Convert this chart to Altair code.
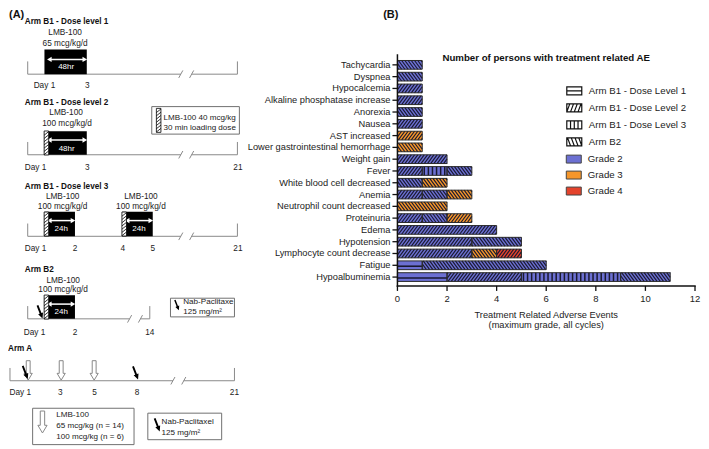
import numpy as np
import pandas as pd
import altair as alt

FONT = "Liberation Sans"

# ======================= Panel B values =======================
events = ["Tachycardia", "Dyspnea", "Hypocalcemia", "Alkaline phosphatase increase",
          "Anorexia", "Nausea", "AST increased", "Lower gastrointestinal hemorrhage",
          "Weight gain", "Fever", "White blood cell decreased", "Anemia",
          "Neutrophil count decreased", "Proteinuria", "Edema", "Hypotension",
          "Lymphocyte count decrease", "Fatigue", "Hypoalbuminemia"]
arms = ["Arm B1 - Dose Level 1", "Arm B1 - Dose Level 2", "Arm B1 - Dose Level 3", "Arm B2"]
grades = ["Grade 2", "Grade 3", "Grade 4"]
DL1, DL2, DL3, B2 = arms
G2, G3, G4 = grades

seg_event = ["Tachycardia", "Dyspnea", "Hypocalcemia", "Alkaline phosphatase increase",
             "Anorexia", "Nausea", "AST increased", "Lower gastrointestinal hemorrhage",
             "Weight gain", "Fever", "Fever", "Fever",
             "White blood cell decreased", "White blood cell decreased",
             "Anemia", "Anemia", "Anemia", "Neutrophil count decreased",
             "Proteinuria", "Proteinuria", "Proteinuria", "Edema",
             "Hypotension", "Hypotension",
             "Lymphocyte count decrease", "Lymphocyte count decrease", "Lymphocyte count decrease",
             "Fatigue", "Fatigue",
             "Hypoalbuminemia", "Hypoalbuminemia", "Hypoalbuminemia", "Hypoalbuminemia"]
seg_arm = [B2, B2, DL2, DL2, B2, DL2, DL2, B2, DL2, DL2, DL3, B2, B2, B2, DL2, B2, B2, B2,
           DL2, B2, DL2, DL2, DL2, B2, DL2, B2, DL2, DL1, B2, DL1, DL2, DL3, B2]
seg_grade = [G2, G2, G2, G2, G2, G2, G3, G3, G2, G2, G2, G2, G2, G3, G2, G2, G3, G3,
             G2, G2, G3, G2, G2, G2, G2, G3, G4, G2, G2, G2, G2, G2, G2]
seg_count = [1, 1, 1, 1, 1, 1, 1, 1, 2, 1, 1, 1, 1, 1, 1, 1, 1, 2,
             1, 1, 1, 4, 3, 2, 3, 1, 1, 1, 5, 2, 3, 4, 2]
x_ticks = [0, 2, 4, 6, 8, 10, 12]
chart_title = "Number of persons with treatment related AE"
x_title = ["Treatment Related Adverse Events", "(maximum grade, all cycles)"]

# styles
grade_colors = ["#6c70d2", "#f5962a", "#e4432c"]
hatch_color = "#191930"
AXC = "#111111"
pattern_of = {DL1: "h", DL2: "/", DL3: "|", B2: "\\"}

# ---------- derive stacked segments ----------
HB = 0.37  # half bar thickness in row units
rows, ends = [], {}
for e, a, g, c in zip(seg_event, seg_arm, seg_grade, seg_count):
    x0 = ends.get(e, 0)
    x1 = x0 + c
    ends[e] = x1
    i = events.index(e)
    rows.append(dict(event=e, arm=a, grade=g, x0=x0, x1=x1, yc=i, ylo=i - HB, yhi=i + HB))
seg = pd.DataFrame(rows)
ev_df = pd.DataFrame({"event": events, "idx": list(range(len(events)))})
xt_df = pd.DataFrame({"v": x_ticks, "lab": [str(v) for v in x_ticks]})

D, S, SV = 0.26, 0.13, 0.165
diag, vert, horiz = [], [], []
for r in rows:
    k = pattern_of[r["arm"]]
    x0, x1, yc = r["x0"], r["x1"], r["yc"]
    if k in ("/", "\\"):
        xb = x0 - D + 0.04
        while xb < x1:
            t0 = max(0.0, (x0 - xb) / D)
            t1 = min(1.0, (x1 - xb) / D)
            if t1 > t0:
                if k == "/":
                    ya, yb = yc + HB - 2 * HB * t0, yc + HB - 2 * HB * t1
                else:
                    ya, yb = yc - HB + 2 * HB * t0, yc - HB + 2 * HB * t1
                diag.append(dict(xa=xb + D * t0, xb=xb + D * t1, ya=ya, yb=yb))
            xb += S
    elif k == "|":
        x = x0 + SV / 2
        while x < x1 - 1e-9:
            vert.append(dict(xa=x, ya=yc - HB, yb=yc + HB))
            x += SV
    else:
        horiz.append(dict(xa=x0, xb=x1, ya=yc + 0.08))
diag_df, vert_df, horiz_df = pd.DataFrame(diag), pd.DataFrame(vert), pd.DataFrame(horiz)

W_B, H_B = 298, 276
WA, HA = 389, 433
Y_TOP = 44
xs = alt.Scale(domain=[0, 12], nice=False, zero=True)
ys = alt.Scale(domain=[-0.9, 18.75], range=[Y_TOP, H_B], nice=False, zero=False)


def bx(f):
    return alt.X(f + ":Q", scale=xs, axis=None)


def by(f):
    return alt.Y(f + ":Q", scale=ys, axis=None)


RECT = "M-1,-0.53L1,-0.53L1,0.53L-1,0.53Z"
arm_paths = [
    RECT + "M-1,0L1,0",
    RECT + "M-1,0.53L-0.6,-0.53M-0.5,0.53L-0.1,-0.53M0,0.53L0.4,-0.53M0.5,0.53L0.9,-0.53",
    RECT + "M-0.5,-0.53L-0.5,0.53M0,-0.53L0,0.53M0.5,-0.53L0.5,0.53",
    RECT + "M-0.9,-0.53L-0.5,0.53M-0.4,-0.53L0,0.53M0.1,-0.53L0.5,0.53M0.6,-0.53L1,0.53",
]

LEG_X = WA + 168.6
leg_common = dict(title=None, orient="none", legendX=LEG_X, symbolSize=225, labelFontSize=9.7,
                  labelFont=FONT, labelColor="#222", labelOffset=6, rowPadding=2, padding=0)

bars_fill = alt.Chart(seg).mark_bar(strokeWidth=0).encode(
    x=bx("x0"), x2="x1:Q", y=by("ylo"), y2="yhi:Q",
    color=alt.Color("grade:N", scale=alt.Scale(domain=grades, range=grade_colors),
                    legend=alt.Legend(legendY=141, symbolType=RECT, symbolStrokeColor="#444",
                                      symbolStrokeWidth=1, **leg_common)))
diag_l = alt.Chart(diag_df).mark_rule(color=hatch_color, strokeWidth=1.15).encode(
    x=bx("xa"), x2="xb:Q", y=by("ya"), y2="yb:Q")
vert_l = alt.Chart(vert_df).mark_rule(color=hatch_color, strokeWidth=1.5).encode(
    x=bx("xa"), y=by("ya"), y2="yb:Q")
horiz_l = alt.Chart(horiz_df).mark_rule(color=hatch_color, strokeWidth=1.6).encode(
    x=bx("xa"), x2="xb:Q", y=by("ya"))
outline = alt.Chart(seg).mark_bar(fill="transparent", stroke="#2a2a2a", strokeWidth=1).encode(
    x=bx("x0"), x2="x1:Q", y=by("ylo"), y2="yhi:Q")

# axes drawn as marks
y_ticks = alt.Chart(ev_df).mark_rule(color=AXC, strokeWidth=1.3).encode(
    x=alt.value(-5), x2=alt.value(0), y=by("idx"))
y_labels = alt.Chart(ev_df).mark_text(align="right", baseline="middle", font=FONT, fontSize=9.3,
                                      color="#222").encode(
    x=alt.value(-7), y=by("idx"), text="event:N")
y_domain = alt.Chart(ev_df.head(1)).mark_rule(color=AXC, strokeWidth=1.5).encode(
    x=alt.value(0), y=alt.value(Y_TOP), y2=alt.value(H_B + 0.75))
x_domain = alt.Chart(xt_df.head(1)).mark_rule(color=AXC, strokeWidth=1.5).encode(
    x=alt.value(-0.75), x2=alt.value(W_B + 0.75), y=alt.value(H_B))
x_tick_l = alt.Chart(xt_df).mark_rule(color=AXC, strokeWidth=1.3).encode(
    x=bx("v"), y=alt.value(H_B), y2=alt.value(H_B + 5))
x_lab_l = alt.Chart(xt_df).mark_text(baseline="middle", font=FONT, fontSize=9.5,
                                     color="#222").encode(
    x=bx("v"), y=alt.value(H_B + 13), text="lab:N")
x_title_l = alt.Chart(pd.DataFrame({"t": x_title, "k": [0, 1]})).mark_text(
    baseline="middle", font=FONT, fontSize=9.3, color="#222").encode(
    x=alt.value(W_B / 2), y=alt.Y("k:Q", scale=alt.Scale(domain=[0, 1], range=[H_B + 29, H_B + 39.5]),
                                  axis=None), text="t:N")

leg_pts = alt.Chart(pd.DataFrame({"arm": arms, "px": [0] * 4, "py": [0] * 4})).mark_point(
    opacity=0).encode(
    x=bx("px"), y=by("py"),
    shape=alt.Shape("arm:N", scale=alt.Scale(domain=arms, range=arm_paths),
                    legend=alt.Legend(legendY=72.2, symbolFillColor="white",
                                      symbolStrokeColor="#111", symbolStrokeWidth=1.2,
                                      symbolOpacity=1, **leg_common)))
title_l = alt.Chart(pd.DataFrame({"t": [chart_title]})).mark_text(
    font=FONT, fontSize=9.7, fontWeight="bold", color="#111").encode(
    x=alt.value(W_B / 2), y=alt.value(48), text="t:N")

panel_b = alt.layer(bars_fill, diag_l, vert_l, horiz_l, outline, y_ticks, y_labels, y_domain,
                    x_domain, x_tick_l, x_lab_l, x_title_l, leg_pts, title_l).resolve_scale(
    y="independent").properties(width=W_B, height=H_B)

# ======================= Panel A (schematic) =======================
# diagram layout in reference-pixel units
headers = [("(A)", 3, 10, 11), ("(B)", 383, 10, 11),
           ("Arm B1 - Dose level 1", 19, 17, 8.2), ("Arm B1 - Dose level 2", 19, 99, 8.2),
           ("Arm B1 - Dose level 3", 19, 185, 8.2), ("Arm B2", 19, 269, 8.2),
           ("Arm A", 2, 350, 8.2)]
drug_labels = [("LMB-100", 60, 28), ("65 mcg/kg/d", 60, 39),
               ("LMB-100", 61, 110), ("100 mcg/kg/d", 62, 121),
               ("LMB-100", 57.5, 195), ("100 mcg/kg/d", 57.5, 205),
               ("LMB-100", 137, 195), ("100 mcg/kg/d", 137, 205),
               ("LMB-100", 58, 280), ("100 mcg/kg/d", 58, 290)]
day_labels = [("Day 1", 39, 82), ("3", 82.5, 82),
              ("Day 1", 30, 165), ("3", 82.5, 165), ("21", 235.5, 165),
              ("Day 1", 30, 248), ("2", 70, 248), ("4", 118.5, 248), ("5", 149, 248), ("21", 235.5, 248),
              ("Day 1", 29, 333), ("2", 70, 333), ("14", 146, 333),
              ("Day 1", 14.5, 394), ("3", 55, 394), ("5", 90, 394), ("8", 133, 394), ("21", 232, 394)]
box_texts = [("LMB-100 40 mcg/kg", 160, 115), ("30 min loading dose", 160, 125),
             ("Nab-Paclitaxe", 180, 302), ("125 mg/m²", 180, 312),
             ("LMB-100", 51, 417), ("65 mcg/kg (n = 14)", 51, 428), ("100 mcg/kg (n = 6)", 51, 439),
             ("Nab-Paclitaxel", 158, 424), ("125 mg/m²", 158, 435)]
infusion_blocks = [(39, 82, 45, 70), (39, 82, 128, 152), (39, 70, 210, 235),
                   (118, 149, 210, 235), (39, 70, 295, 319)]
block_arrows = [(44, 80, 55), (44, 80, 137), (44, 68, 219), (123, 147, 219), (44, 68, 304)]
block_texts = [("48hr", 61, 63), ("48hr", 61.5, 146), ("24h", 56, 228), ("24h", 135, 228),
               ("24h", 56, 312)]
loading_strips = [(41, 140), (41, 222.5), (120, 222.5), (41, 307), (155, 117)]
timelines = [(22, 235, 70, 183), (22, 235, 152, 183), (22, 235, 235, 183),
             (22, 146, 319, 131), (4, 232, 382, 175)]
legend_boxes = [(148, 237, 103, 131), (167, 232, 298, 317), (27, 130, 410, 447), (144, 219, 415, 442)]
open_arrows = [(22.5, 371.5, 380), (56, 371.5, 380), (89.5, 371.5, 380), (37, 424, 484)]
black_arrows = [(19.5, 373.5, 210), (131.5, 374, 210), (34.5, 312, 210), (173.5, 305, 130),
                (153.5, 427, 210)]

AX = alt.Scale(domain=[3, 3 + WA / 0.986], nice=False, zero=False)
AY = alt.Scale(domain=[5, 5 + HA / 0.984], range=[0, HA], nice=False, zero=False)


def ex(f):
    return alt.X(f + ":Q", scale=AX, axis=None)


def ey(f):
    return alt.Y(f + ":Q", scale=AY, axis=None)


def arrow_path():
    tail, tip = np.array([-0.35, -0.9]), np.array([0.35, 0.9])
    u = (tip - tail) / np.linalg.norm(tip - tail)
    p = np.array([u[1], -u[0]])
    w, L, H = 0.13, 0.75, 0.36
    base = tip - L * u
    pts = [tail + w * p, base + w * p, base + H * p, tip, base - H * p, base - w * p, tail - w * p]
    return "M" + "L".join(f"{a:.3f},{b:.3f}" for a, b in pts) + "Z"


def strip_path(hw=0.19):
    s = f"M{-hw},-1L{hw},-1L{hw},1L{-hw},1Z"
    y0 = -0.95
    while y0 + 0.3 <= 1.0:
        s += f"M{-hw},{y0 + 0.3:.2f}L{hw},{y0:.2f}"
        y0 += 0.27
    return s


OPEN_ARROW = "M-0.2,-1L0.2,-1L0.2,0.3L0.42,0.3L0,1L-0.42,0.3L-0.2,0.3Z"
BREAK = "M-1,0.5L-0.45,-0.5M0.45,0.5L1,-0.5"

hdr_df = pd.DataFrame(headers, columns=["t", "x", "y", "fs"])
drug_df = pd.DataFrame(drug_labels + day_labels, columns=["t", "x", "y"])
boxt_df = pd.DataFrame(box_texts, columns=["t", "x", "y"])
blk_df = pd.DataFrame(infusion_blocks, columns=["x", "x2", "y", "y2"])
barr_df = pd.DataFrame(block_arrows, columns=["x", "x2", "y"])
barr_df["xl"] = barr_df["x"] + 1.5
barr_df["xr"] = barr_df["x2"] - 1.5
btxt_df = pd.DataFrame(block_texts, columns=["t", "x", "y"])
strip_df = pd.DataFrame(loading_strips, columns=["x", "y"])
tl = pd.DataFrame(timelines, columns=["tstart", "tend", "ty", "tbrk"])
base_df = pd.concat([pd.DataFrame({"x": tl["tstart"], "x2": tl["tbrk"] - 5.4, "y": tl["ty"]}),
                     pd.DataFrame({"x": tl["tbrk"] + 5.4, "x2": tl["tend"], "y": tl["ty"]})])
tick_df = pd.concat([pd.DataFrame({"x": tl["tstart"], "y": tl["ty"] - 13, "y2": tl["ty"]}),
                     pd.DataFrame({"x": tl["tend"], "y": tl["ty"] - 13, "y2": tl["ty"]})])
brk_df = pd.DataFrame({"x": tl["tbrk"], "y": tl["ty"]})
lbox_df = pd.DataFrame(legend_boxes, columns=["x", "x2", "y", "y2"])
oarr_df = pd.DataFrame(open_arrows, columns=["x", "y", "s"])
karr_df = pd.DataFrame(black_arrows, columns=["x", "y", "s"])

GRAY = "#8a8a8a"
a_layers = [
    alt.Chart(lbox_df).mark_rect(fill="white", stroke="#707070", strokeWidth=1).encode(
        x=ex("x"), x2="x2:Q", y=ey("y"), y2="y2:Q"),
    alt.Chart(base_df).mark_rule(color=GRAY, strokeWidth=1).encode(x=ex("x"), x2="x2:Q", y=ey("y")),
    alt.Chart(tick_df).mark_rule(color=GRAY, strokeWidth=1).encode(x=ex("x"), y=ey("y"), y2="y2:Q"),
    alt.Chart(brk_df).mark_point(shape=BREAK, size=225, filled=False, color=GRAY, strokeWidth=1,
                                 opacity=1).encode(x=ex("x"), y=ey("y")),
    alt.Chart(blk_df).mark_rect(color="black").encode(x=ex("x"), x2="x2:Q", y=ey("y"), y2="y2:Q"),
    alt.Chart(barr_df).mark_rule(color="white", strokeWidth=1.5).encode(
        x=ex("xl"), x2="xr:Q", y=ey("y")),
    alt.Chart(barr_df).mark_point(shape="triangle-left", size=28, filled=True, color="white",
                                  opacity=1).encode(x=ex("x"), y=ey("y")),
    alt.Chart(barr_df).mark_point(shape="triangle-right", size=28, filled=True, color="white",
                                  opacity=1).encode(x=ex("x2"), y=ey("y")),
    alt.Chart(btxt_df).mark_text(font=FONT, fontSize=8, color="white").encode(
        x=ex("x"), y=ey("y"), text="t:N"),
    alt.Chart(strip_df).mark_point(shape=strip_path(), size=576, filled=True, fill="white",
                                   stroke="black", strokeWidth=0.8, opacity=1).encode(
        x=ex("x"), y=ey("y")),
    alt.Chart(oarr_df).mark_point(shape=OPEN_ARROW, filled=True, fill="white", stroke="#888",
                                  strokeWidth=1, opacity=1).encode(
        x=ex("x"), y=ey("y"), size=alt.Size("s:Q", scale=None)),
    alt.Chart(karr_df).mark_point(shape=arrow_path(), filled=True, color="black",
                                  opacity=1).encode(
        x=ex("x"), y=ey("y"), size=alt.Size("s:Q", scale=None)),
    alt.Chart(hdr_df).mark_text(align="left", font=FONT, fontWeight="bold", color="#111").encode(
        x=ex("x"), y=ey("y"), text="t:N", size=alt.Size("fs:Q", scale=None)),
    alt.Chart(drug_df).mark_text(font=FONT, fontSize=8.3, color="#222").encode(
        x=ex("x"), y=ey("y"), text="t:N"),
    alt.Chart(boxt_df).mark_text(align="left", font=FONT, fontSize=8.1, color="#222").encode(
        x=ex("x"), y=ey("y"), text="t:N"),
]
panel_a = alt.layer(*a_layers).properties(width=WA, height=HA)

chart = alt.hconcat(panel_a, panel_b, spacing=0, bounds="flush").properties(
    padding=0).configure(font=FONT).configure_view(strokeOpacity=0, strokeWidth=0)

chart.save("out.html", embed_options={"renderer": "svg", "actions": False})
